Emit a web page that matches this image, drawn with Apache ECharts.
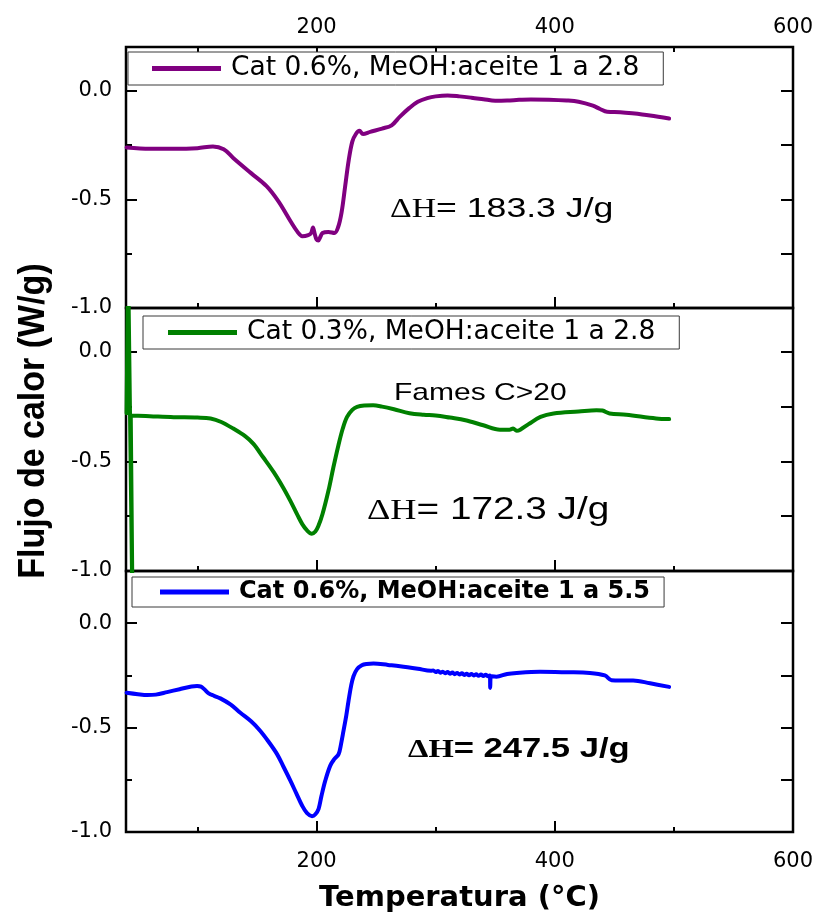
<!DOCTYPE html>
<html>
<head>
<meta charset="utf-8">
<script src="https://cdn.jsdelivr.net/npm/echarts@6/dist/echarts.min.js"></script>
<style>
  html, body { margin: 0; padding: 0; background: #fff; }
  #chart { width: 819px; height: 915px; }
</style>
</head>
<body>
<div id="chart"></div>
<script>
// DSC heat-flow traces, temperature (°C) vs heat flow (W/g)
const seriesNames = [
  'Cat 0.6%, MeOH:aceite 1 a 2.8',
  'Cat 0.3%, MeOH:aceite 1 a 2.8',
  'Cat 0.6%, MeOH:aceite 1 a 5.5'
];

const tempPurple = [40.5, 60, 80, 100, 113, 122, 130, 145, 158, 168, 178, 184, 188, 193, 195.5, 197, 198.5, 200, 201.5, 203, 205, 210, 215, 218, 221, 224, 227, 230, 233, 236, 239, 245, 255, 263, 270, 278, 285, 293, 300, 310, 320, 330, 340, 350, 360, 370, 380, 395, 410, 420, 432, 438, 444, 455, 465, 480, 496];
const flowPurple = [-0.262, -0.268, -0.268, -0.265, -0.257, -0.27, -0.31, -0.38, -0.44, -0.51, -0.60, -0.65, -0.67, -0.665, -0.655, -0.63, -0.66, -0.685, -0.69, -0.675, -0.655, -0.65, -0.655, -0.63, -0.56, -0.44, -0.32, -0.235, -0.2, -0.185, -0.2, -0.19, -0.175, -0.16, -0.12, -0.08, -0.052, -0.035, -0.027, -0.023, -0.027, -0.033, -0.04, -0.047, -0.046, -0.043, -0.041, -0.042, -0.046, -0.052, -0.07, -0.085, -0.098, -0.1, -0.105, -0.115, -0.129];

// start-up transient of the 0.3 % run, then the main trace
const tempGreenStart = [40.5, 41.8, 45.7, 44];
const flowGreenStart = [-0.28, 0.4, -1.3, -0.292];
const tempGreen = [44, 50, 60, 80, 100, 111, 120, 130, 140, 147, 155, 164, 172, 178, 184, 188, 192, 196, 199, 201.5, 205, 210, 214, 218, 222, 225.6, 230, 234, 240, 247.5, 255, 265, 278, 290, 300, 312, 325, 340, 354, 362, 365, 368, 371, 378, 388, 399, 420, 435, 440, 446, 460, 485, 496];
const flowGreen = [-0.292, -0.292, -0.294, -0.298, -0.3, -0.304, -0.32, -0.35, -0.385, -0.42, -0.48, -0.549, -0.62, -0.68, -0.745, -0.786, -0.815, -0.83, -0.82, -0.795, -0.74, -0.633, -0.53, -0.434, -0.35, -0.297, -0.265, -0.251, -0.245, -0.244, -0.25, -0.262, -0.28, -0.287, -0.29, -0.3, -0.312, -0.335, -0.355, -0.355, -0.35, -0.36, -0.355, -0.33, -0.297, -0.281, -0.272, -0.266, -0.268, -0.281, -0.287, -0.304, -0.307];

const tempBlue = [40.5, 50, 57.8, 65, 74.5, 85, 95, 99.7, 103, 106, 109.4, 114, 119.2, 128, 136, 145, 152.8, 160, 166.8, 172, 178, 183, 187.8, 192, 196.2, 199, 201.7, 204, 207.3, 211.5, 215, 218.5, 220.5, 222.6, 225, 226.8, 229, 231, 234, 238, 242, 247.8, 260, 270, 285, 296,
  298, 300, 302, 304, 306, 308, 310, 312, 314, 316, 318, 320, 322, 324, 326, 328, 330, 332, 334, 336, 338, 340, 342, 344,
  345.5, 345.8, 346.3, 351, 360, 368, 387.6, 410, 429.5, 442, 447.7, 455, 465.8, 480, 496];
const flowBlue = [-0.333, -0.34, -0.344, -0.342, -0.33, -0.316, -0.303, -0.301, -0.304, -0.318, -0.336, -0.348, -0.36, -0.39, -0.429, -0.47, -0.516, -0.57, -0.627, -0.685, -0.754, -0.815, -0.873, -0.91, -0.924, -0.915, -0.889, -0.83, -0.754, -0.682, -0.65, -0.627, -0.58, -0.516, -0.44, -0.373, -0.3, -0.254, -0.22, -0.201, -0.195, -0.193, -0.2, -0.206, -0.218, -0.228,
  -0.226, -0.234, -0.229, -0.237, -0.232, -0.240, -0.234, -0.242, -0.236, -0.244, -0.238, -0.246, -0.240, -0.248, -0.242, -0.249, -0.243, -0.250, -0.245, -0.252, -0.246, -0.253, -0.247, -0.254,
  -0.25, -0.31, -0.254, -0.256, -0.243, -0.238, -0.233, -0.235, -0.238, -0.25, -0.273, -0.274, -0.274, -0.288, -0.305];

const enthalpies = ['183.3', '172.3', '247.5'];
const xRange = [40, 600];
const xLabelTicks = [200, 400, 600];
const xMinorTicks = [100, 300, 500];
const xTopTicks = [100, 200, 300, 400, 500, 600];
const yLabelTicks = [0, -0.5, -1];
const yMinorTicks = [-0.25, -0.75];
const yRightTicks = [0, -0.25, -0.5, -0.75];
const panelMin = [-1, -1, -1];
const panelMax = [0.2, 0.2, 0.25];

const colors = ['#800080', '#008000', '#0000ff'];
const traces = [[tempPurple, flowPurple], [tempGreen, flowGreen], [tempBlue, flowBlue]];

const SANS = 'DejaVu Sans';
const tickLine = { color: '#000', width: 2 };
const labelText = { fontFamily: SANS, fontSize: 21, color: '#000' };

const grids = [
  { left: 126, right: 26, top: 47, height: 261 },
  { left: 126, right: 26, top: 308, height: 263 },
  { left: 126, right: 26, top: 571, height: 261 }
].map(g => Object.assign(g, { show: true, borderColor: '#000', borderWidth: 2.5, backgroundColor: 'transparent' }));

const xAxes = [];
const yAxes = [];
const xMain = [];
const yMain = [];

function baseX(grid, position) {
  return {
    gridIndex: grid, type: 'value', min: xRange[0], max: xRange[1], position,
    axisLine: { show: false, onZero: false },
    splitLine: { show: false }
  };
}
function baseY(grid, position) {
  return {
    gridIndex: grid, type: 'value', min: panelMin[grid], max: panelMax[grid], position,
    axisLine: { show: false, onZero: false },
    splitLine: { show: false }
  };
}

for (let g = 0; g < 3; g++) {
  // bottom edge: long labelled ticks
  xMain.push(xAxes.length);
  const xm = baseX(g, 'bottom');
  xm.axisTick = { inside: true, length: 11, customValues: xLabelTicks, lineStyle: tickLine };
  xm.axisLabel = { show: g === 2, customValues: xLabelTicks, margin: 19, ...labelText };
  if (g === 2) {
    xm.name = 'Temperatura (°C)';
    xm.nameLocation = 'middle';
    xm.nameGap = 52;
    xm.nameTextStyle = { fontFamily: SANS, fontWeight: 'bold', fontSize: 29, color: '#000' };
  }
  xAxes.push(xm);
  // bottom edge: short ticks
  const xn = baseX(g, 'bottom');
  xn.axisTick = { inside: true, length: 5, customValues: xMinorTicks, lineStyle: tickLine };
  xn.axisLabel = { show: false };
  xAxes.push(xn);
  if (g === 0) {
    const xt = baseX(g, 'top');
    xt.axisTick = { inside: true, length: 5, customValues: xTopTicks, lineStyle: tickLine };
    xt.axisLabel = { show: true, customValues: xLabelTicks, margin: 9, ...labelText };
    xAxes.push(xt);
  }

  // left edge: labelled ticks
  yMain.push(yAxes.length);
  const ym = baseY(g, 'left');
  ym.axisTick = { inside: true, length: 11, customValues: yLabelTicks, lineStyle: tickLine };
  ym.axisLabel = { show: true, customValues: yLabelTicks, margin: 14, formatter: v => Number(v).toFixed(1), ...labelText };
  yAxes.push(ym);
  // left edge: short ticks
  const yn = baseY(g, 'left');
  yn.axisTick = { inside: true, length: 6, customValues: yMinorTicks, lineStyle: tickLine };
  yn.axisLabel = { show: false };
  yAxes.push(yn);
  // right edge
  const yr = baseY(g, 'right');
  yr.axisTick = { inside: true, length: 12, customValues: yRightTicks, lineStyle: tickLine };
  yr.axisLabel = { show: false };
  yAxes.push(yr);
}

function lineSeries(name, i, t, f, smooth) {
  return {
    name,
    type: 'line',
    xAxisIndex: xMain[i],
    yAxisIndex: yMain[i],
    data: t.map((x, k) => [x, f[k]]),
    symbol: 'none',
    showSymbol: false,
    smooth,
    clip: true,
    color: colors[i],
    lineStyle: { width: 4, color: colors[i], join: 'round', cap: 'round' },
    z: 3
  };
}

const series = traces.map(([t, f], i) => lineSeries(seriesNames[i], i, t, f, 0.35));
series.push(lineSeries(seriesNames[1] + ' (inicio)', 1, tempGreenStart, flowGreenStart, false));

function panelLegend(i, left, top, padding, fontSize, bold) {
  return {
    data: [seriesNames[i]],
    left, top, padding,
    orient: 'horizontal',
    icon: 'rect',
    itemWidth: 69,
    itemHeight: 5,
    selectedMode: false,
    borderColor: '#3a3a3a',
    borderWidth: 1,
    backgroundColor: '#fff',
    textStyle: { fontFamily: SANS, fontSize, fontWeight: bold ? 'bold' : 'normal', color: '#000', padding: [0, 0, 0, 5] }
  };
}

function enthalpyText(value, x, y, size, bold) {
  return {
    type: 'text', x, y, scaleX: 1.25, z: 10,
    style: {
      text: '{d|ΔH}{n|= ' + value + ' J/g}',
      align: 'left', verticalAlign: 'middle', fill: '#000',
      rich: {
        d: { fontFamily: 'Liberation Serif', fontSize: Math.round(size * 0.95), fontWeight: bold ? 'bold' : 'normal', verticalAlign: 'bottom', fill: '#000' },
        n: { fontFamily: 'Liberation Sans', fontSize: size, fontWeight: bold ? 'bold' : 'normal', verticalAlign: 'bottom', fill: '#000' }
      }
    }
  };
}

const chart = echarts.init(document.getElementById('chart'), null, { renderer: 'canvas' });
chart.setOption({
  animation: false,
  backgroundColor: '#fff',
  textStyle: { fontFamily: SANS },
  grid: grids,
  xAxis: xAxes,
  yAxis: yAxes,
  legend: [
    panelLegend(0, 128, 52, [3, 24, 3, 24], 26.5, false),
    panelLegend(1, 143, 316, [3, 24, 3, 25], 26.5, false),
    panelLegend(2, 132, 577, [3, 14, 3, 28], 24, true)
  ],
  series,
  graphic: [
    enthalpyText(enthalpies[0], 390, 209, 28.5, false),
    enthalpyText(enthalpies[1], 367, 510, 31, false),
    enthalpyText(enthalpies[2], 408, 749, 27.7, true),
    {
      type: 'text', x: 394, y: 393, scaleX: 1.25, z: 10,
      style: { text: 'Fames C>20', fontFamily: 'Liberation Sans', fontSize: 24, fill: '#000', align: 'left', verticalAlign: 'middle' }
    },
    {
      type: 'text', x: 34, y: 421, rotation: Math.PI / 2, scaleY: 1.1, z: 10,
      style: { text: 'Flujo de calor (W/g)', fontFamily: 'Liberation Sans', fontWeight: 'bold', fontSize: 34, fill: '#000', align: 'center', verticalAlign: 'middle' }
    }
  ]
});
</script>
</body>
</html>
